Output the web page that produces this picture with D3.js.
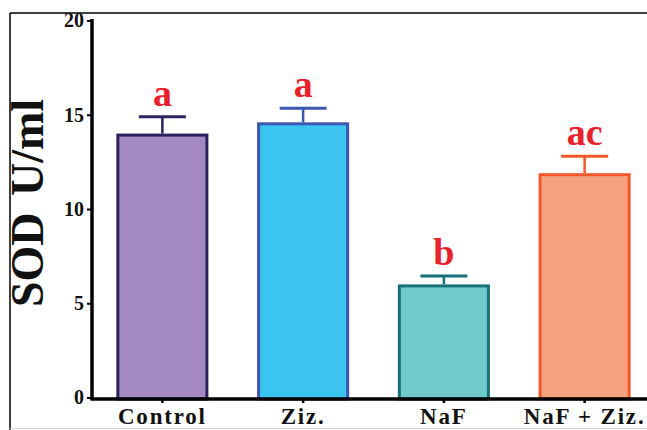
<!DOCTYPE html>
<html>
<head>
<meta charset="utf-8">
<script src="https://cdn.jsdelivr.net/npm/d3@7"></script>
<style>
  html, body { margin: 0; padding: 0; background: #fff; }
  svg { display: block; }
  text { font-family: "Liberation Serif", "Times New Roman", serif; font-weight: bold; }
</style>
</head>
<body>
<svg id="chart" width="647" height="430"></svg>
<script>
// SOD activity per treatment group
const groups = ["Control", "Ziz.", "NaF", "NaF + Ziz."];
const sodMean = [14.0, 14.6, 6.0, 11.9];
const sodError = [0.9, 0.75, 0.45, 0.9];
const sigLetters = ["a", "a", "b", "ac"];
const yTicks = [0, 5, 10, 15, 20];

const fills = ["#a48ac0", "#3cc4f0", "#70c9cd", "#f5a27f"];
const strokes = ["#2b2160", "#3b57b2", "#167079", "#f2582a"];

const svg = d3.select("#chart");

// outer frame
svg.append("line").attr("x1", 10).attr("x2", 647).attr("y1", 13).attr("y2", 13)
  .attr("stroke", "#000").attr("stroke-width", 1.5);
svg.append("line").attr("x1", 10).attr("x2", 10).attr("y1", 13).attr("y2", 430)
  .attr("stroke", "#000").attr("stroke-width", 1.5);
svg.append("line").attr("x1", 10).attr("x2", 647).attr("y1", 428.5).attr("y2", 428.5)
  .attr("stroke", "#d0d0d0").attr("stroke-width", 1);

const x = d3.scaleBand().domain(groups).range([92, 655])
  .paddingInner(0.346).paddingOuter(0.173);
const y = d3.scaleLinear().domain([0, 20]).range([397.5, 20.5]);

// y axis
const yAxis = svg.append("g").attr("transform", "translate(92,0)")
  .call(d3.axisLeft(y).tickValues(yTicks).tickSize(5).tickSizeOuter(0).tickPadding(3));
yAxis.select(".domain").remove();
yAxis.selectAll(".tick line").attr("stroke", "#000").attr("stroke-width", 2);
yAxis.selectAll(".tick text").attr("fill", "#111").style("font-size", "20px")
  .style("font-family", "'Liberation Serif', serif").style("font-weight", "bold");
svg.append("line").attr("x1", 92).attr("x2", 92).attr("y1", 19).attr("y2", 400)
  .attr("stroke", "#000").attr("stroke-width", 3.5);

// bars
const bw = x.bandwidth();
svg.append("g").selectAll("rect").data(groups).join("rect")
  .attr("x", d => x(d) + 1.5)
  .attr("width", bw - 3)
  .attr("y", (d, i) => y(sodMean[i]) + 1.5)
  .attr("height", (d, i) => y(0) - y(sodMean[i]))
  .attr("fill", (d, i) => fills[i])
  .attr("stroke", (d, i) => strokes[i])
  .attr("stroke-width", 3);

// error bars (upper only)
const eb = svg.append("g");
groups.forEach((g, i) => {
  const cx = x(g) + bw / 2;
  eb.append("line").attr("x1", cx).attr("x2", cx)
    .attr("y1", y(sodMean[i])).attr("y2", y(sodMean[i] + sodError[i]))
    .attr("stroke", strokes[i]).attr("stroke-width", 2.5);
  eb.append("line").attr("x1", cx - 23.5).attr("x2", cx + 23.5)
    .attr("y1", y(sodMean[i] + sodError[i])).attr("y2", y(sodMean[i] + sodError[i]))
    .attr("stroke", strokes[i]).attr("stroke-width", 3);
});

// significance letters
svg.append("g").selectAll("text").data(groups).join("text")
  .attr("x", d => x(d) + bw / 2)
  .attr("y", (d, i) => y(sodMean[i] + sodError[i]) - 11)
  .attr("text-anchor", "middle")
  .attr("fill", "#e8212b")
  .style("font-size", "38px")
  .text((d, i) => sigLetters[i]);

// x axis
const xAxis = svg.append("g").attr("transform", "translate(0,399)")
  .call(d3.axisBottom(x).tickSize(4).tickSizeOuter(0).tickPadding(5));
xAxis.select(".domain").remove();
xAxis.selectAll(".tick line").attr("stroke", "#000").attr("stroke-width", 2.5);
xAxis.selectAll(".tick text").attr("fill", "#111").style("font-size", "23px")
  .style("font-family", "'Liberation Serif', serif").style("font-weight", "bold")
  .style("letter-spacing", "1.8px");
svg.append("line").attr("x1", 90.5).attr("x2", 647).attr("y1", 399).attr("y2", 399)
  .attr("stroke", "#000").attr("stroke-width", 3.5);

// y axis title
svg.append("text")
  .attr("transform", "translate(43,203) rotate(-90)")
  .attr("text-anchor", "middle")
  .attr("fill", "#111")
  .style("font-size", "46px")
  .style("word-spacing", "5px")
  .text("SOD U/ml");
</script>
</body>
</html>
